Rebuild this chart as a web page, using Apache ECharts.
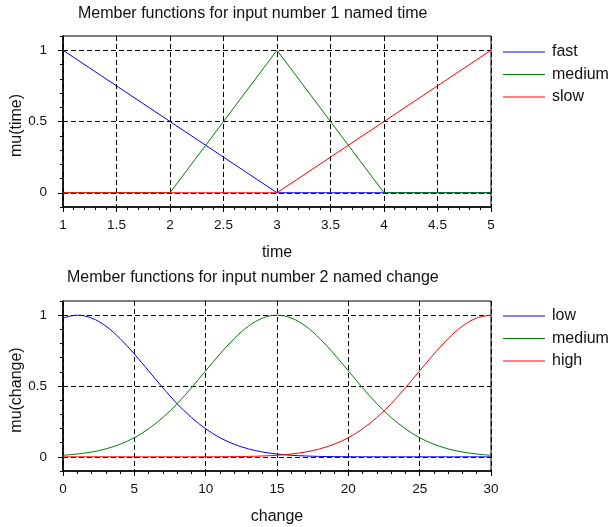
<!DOCTYPE html>
<html>
<head>
<meta charset="utf-8">
<script src="https://cdn.jsdelivr.net/npm/echarts@6/dist/echarts.min.js"></script>
<style>
html,body{margin:0;padding:0;background:#fff;}
#c{width:609px;height:527px;}
</style>
</head>
<body>
<div id="c"></div>
<script>
// ---- Data: input 1 "time" ----
const timeX = [1, 2, 3, 4, 5];
const timeFast = [1, 0.5, 0, 0, 0];
const timeMedium = [0, 0, 1, 0, 0];
const timeSlow = [0, 0, 0, 0.5, 1];
const timeNames = ['fast', 'medium', 'slow'];
const timeTicks = [1, 1.5, 2, 2.5, 3, 3.5, 4, 4.5, 5];

// ---- Data: input 2 "change" ----
const changeX = [0,1,2,3,4,5,6,7,8,9,10,11,12,13,14,15,16,17,18,19,20,21,22,23,24,25,26,27,28,29,30];
const changeLow = [0.980,1,0.980,0.923,0.835,0.726,0.607,0.487,0.375,0.278,0.198,0.135,0.089,0.056,0.034,0.020,0.011,0.006,0.003,0.0015,0.0007,0.0003,0.0001,0,0,0,0,0,0,0,0];
const changeMedium = [0.011,0.020,0.034,0.056,0.089,0.135,0.198,0.278,0.375,0.487,0.607,0.726,0.835,0.923,0.980,1,0.980,0.923,0.835,0.726,0.607,0.487,0.375,0.278,0.198,0.135,0.089,0.056,0.034,0.020,0.011];
const changeHigh = [0,0,0,0,0,0,0,0,0,0,0.0003,0.0007,0.0015,0.003,0.006,0.011,0.020,0.034,0.056,0.089,0.135,0.198,0.278,0.375,0.487,0.607,0.726,0.835,0.923,0.980,1];
const changeNames = ['low', 'medium', 'high'];
const changeTicks = [0, 5, 10, 15, 20, 25, 30];

const yLabels = [0, 0.5, 1];
const colors = ['#0000ff', '#008000', '#ff0000'];

const FONT = 'Liberation Sans';
const zip = (xs, ys) => xs.map((x, i) => [x, ys[i]]);

const chart = echarts.init(document.getElementById('c'), null, {renderer: 'canvas'});

function xAxisDef(gridIndex, min, max, interval, name) {
  return {
    type: 'value', gridIndex, min, max, interval, name,
    nameLocation: 'middle', nameGap: 37.5, nameMoveOverlap: false,
    nameTextStyle: {fontFamily: FONT, fontSize: 16, color: '#111'},
    axisLine: {show: true, onZero: false, lineStyle: {color: '#000', width: 1.5}},
    axisTick: {show: true, inside: false, length: 5, lineStyle: {color: '#000', width: 1}},
    minorTick: {show: true, splitNumber: 5, length: 3, lineStyle: {color: '#000', width: 1}},
    axisLabel: {fontFamily: FONT, fontSize: 13.5, color: '#111', margin: 11,
      showMinLabel: true, showMaxLabel: true},
    splitLine: {show: true, lineStyle: {color: '#000', width: 1, type: [5, 3]}}
  };
}
function yAxisMain(gridIndex, name) {
  return {
    type: 'value', gridIndex, min: -0.1, max: 1.1, name, position: 'left',
    nameLocation: 'middle', nameGap: 38.5, nameMoveOverlap: false,
    nameTextStyle: {fontFamily: FONT, fontSize: 16, color: '#111', padding: [0, 8, 0, 0]},
    axisLine: {show: true, onZero: false, lineStyle: {color: '#000', width: 1.5}},
    axisTick: {show: true, length: 5, customValues: yLabels, lineStyle: {color: '#000', width: 1}},
    axisLabel: {fontFamily: FONT, fontSize: 13.5, color: '#111', margin: 16, customValues: yLabels},
    splitLine: {show: true, lineStyle: {color: '#000', width: 1, type: [5, 3]}}
  };
}
function yAxisMinor(gridIndex) {
  return {
    type: 'value', gridIndex, min: -0.1, max: 1.1, interval: 0.1, position: 'left', offset: 0,
    axisLine: {show: false, onZero: false},
    axisTick: {show: true, length: 3, lineStyle: {color: '#000', width: 1}},
    axisLabel: {show: false},
    splitLine: {show: false}
  };
}
function lineSeries(name, data, color, xi, yi, smooth) {
  return {
    type: 'line', name, data, xAxisIndex: xi, yAxisIndex: yi,
    showSymbol: false, symbol: 'none', smooth: smooth ? 0.35 : false,
    lineStyle: {color, width: 1}, itemStyle: {color},
    animation: false
  };
}
function legendDef(names, top) {
  return {
    data: names, orient: 'vertical', left: 503, top, padding: 0,
    icon: 'rect', itemWidth: 42, itemHeight: 1.2, itemGap: 6.5,
    textStyle: {fontFamily: FONT, fontSize: 16, lineHeight: 16, color: '#111', padding: [0, 0, 0, 2]},
    selectedMode: false
  };
}

const option = {
  backgroundColor: '#fff',
  animation: false,
  title: [
    {text: 'Member functions for input number 1 named time', left: 78, top: 6, padding: 0,
     textStyle: {fontFamily: FONT, fontSize: 16, fontWeight: 'normal', color: '#111'}},
    {text: 'Member functions for input number 2 named change', left: 67, top: 270, padding: 0,
     textStyle: {fontFamily: FONT, fontSize: 16, fontWeight: 'normal', color: '#111'}}
  ],
  legend: [
    legendDef(timeNames, 44),
    legendDef(changeNames, 308)
  ],
  grid: [
    {left: 63, top: 36, width: 428, height: 171, show: true, borderColor: '#000', borderWidth: 1,
     backgroundColor: 'transparent', containLabel: false, outerBoundsMode: 'none'},
    {left: 63, top: 301, width: 428, height: 170, show: true, borderColor: '#000', borderWidth: 1,
     backgroundColor: 'transparent', containLabel: false, outerBoundsMode: 'none'}
  ],
  xAxis: [
    xAxisDef(0, timeTicks[0], timeTicks[timeTicks.length - 1], 0.5, 'time'),
    xAxisDef(1, changeTicks[0], changeTicks[changeTicks.length - 1], 5, 'change')
  ],
  yAxis: [
    yAxisMain(0, 'mu(time)'),
    yAxisMinor(0),
    yAxisMain(1, 'mu(change)'),
    yAxisMinor(1)
  ],
  series: [
    lineSeries(timeNames[0], zip(timeX, timeFast), colors[0], 0, 0, false),
    lineSeries(timeNames[1], zip(timeX, timeMedium), colors[1], 0, 0, false),
    lineSeries(timeNames[2], zip(timeX, timeSlow), colors[2], 0, 0, false),
    lineSeries(changeNames[0], zip(changeX, changeLow), colors[0], 1, 2, true),
    lineSeries(changeNames[1], zip(changeX, changeMedium), colors[1], 1, 2, true),
    lineSeries(changeNames[2], zip(changeX, changeHigh), colors[2], 1, 2, true)
  ]
};
chart.setOption(option);
</script>
</body>
</html>
